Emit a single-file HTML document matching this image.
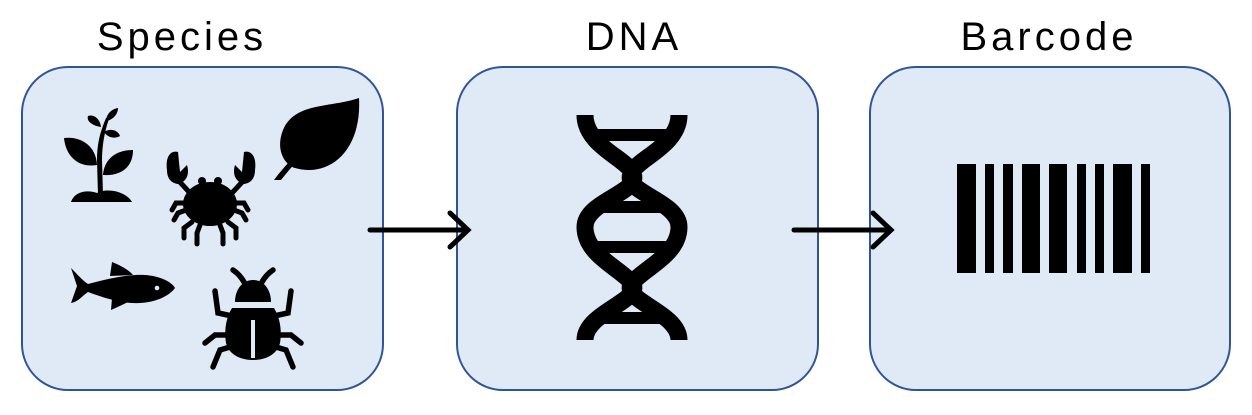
<!DOCTYPE html>
<html><head><meta charset="utf-8"><style>
html,body{margin:0;padding:0;background:#fff;}
body{width:1252px;height:410px;overflow:hidden;}
</style></head><body>
<svg width="1252" height="410" viewBox="0 0 1252 410" xmlns="http://www.w3.org/2000/svg">
<g font-family="Liberation Sans, sans-serif" font-size="40" fill="#000" text-anchor="middle" letter-spacing="4">
<text x="182" y="50">Species</text>
<text x="634" y="50">DNA</text>
<text x="1049" y="50">Barcode</text>
</g>
<g fill="#dfeaf6" stroke="#2f5597" stroke-width="2">
<rect x="22" y="67" width="361" height="323" rx="46"/>
<rect x="457" y="67" width="361" height="323" rx="46"/>
<rect x="870" y="67" width="360" height="323" rx="46"/>
</g>
<g stroke="#000" stroke-width="5" fill="none" stroke-linecap="round">
<line x1="370" y1="230" x2="466" y2="230"/>
<polyline points="450,213 468,230 450,247"/>
<line x1="794" y1="230" x2="889" y2="230"/>
<polyline points="873,213 891,230 873,247"/>
</g>
<g fill="#000">
<rect x="957" y="164" width="19" height="109"/>
<rect x="985" y="164" width="9" height="109"/>
<rect x="1003" y="164" width="10" height="109"/>
<rect x="1022" y="164" width="18" height="109"/>
<rect x="1049" y="164" width="18" height="109"/>
<rect x="1077" y="164" width="9" height="109"/>
<rect x="1095" y="164" width="9" height="109"/>
<rect x="1113" y="164" width="19" height="109"/>
<rect x="1141" y="164" width="9" height="109"/>
</g>
<g stroke="#000" stroke-width="17" fill="none">
<path d="M585 115 C585 145 625 158 632 172 C645 192 585 200 585 227 C585 255 620 268 632 283 C645 300 585 312 585 340"/>
<path d="M679 115 C679 145 639 158 632 172 C619 192 679 200 679 227 C679 255 644 268 632 283 C619 300 679 312 679 340"/>
</g>
<g fill="#000">
<rect x="592" y="129" width="80" height="12"/>
<rect x="592" y="201" width="80" height="12"/>
<rect x="592" y="241" width="80" height="12"/>
<rect x="592" y="312" width="80" height="12"/>
</g>
<g fill="#000">
<path d="M71 202 C75 190 90 190 97 193 C105 188 125 190 132 202 Z"/>
<path d="M98 195 L97 160 C97 140 102 128 106 118 L109 119 C105 130 102 145 102 160 L103 195 Z"/>
<path d="M64 138 C80 136 96 145 97 165 C80 168 66 158 64 138 Z"/>
<path d="M133 150 C133 168 120 176 103 175 C104 160 115 150 133 150 Z"/>
<path d="M104 132 C110 128 118 130 120 136 C115 139 108 138 104 132 Z"/>
<path d="M101 127 C94 126 86 122 88 116 C94 114 100 119 101 127 Z"/>
<path d="M118 108 C118 114 113 120 106 121 C106 115 111 109 118 108 Z"/>
</g>
<g fill="#000">
<ellipse cx="210" cy="204" rx="27" ry="22"/>
<circle cx="202" cy="181" r="4"/><circle cx="218" cy="181" r="4"/>
<path d="M167 170 C165 155 172 150 178 152 L180 172 L187 165 C190 175 186 182 178 184 C170 183 167 177 167 170 Z"/>
<path d="M255 170 C257 155 250 150 244 152 L242 172 L235 165 C232 175 236 182 244 184 C252 183 255 177 255 170 Z"/>
</g>
<g stroke="#000" stroke-width="5" fill="none" stroke-linecap="round">
<line x1="178" y1="180" x2="190" y2="193"/><line x1="244" y1="180" x2="232" y2="193"/>
<polyline points="186,203 176,203 172,210"/><polyline points="186,210 178,213 174,220"/>
<polyline points="234,203 244,203 248,210"/><polyline points="234,210 242,213 246,220"/>
<polyline points="192,222 184,228 184,238"/><polyline points="200,225 197,233 197,244"/>
<polyline points="228,222 236,228 236,238"/><polyline points="220,225 223,233 223,244"/>
</g>
<g fill="#000">
<path d="M359 98 C330 108 295 102 283 130 C275 150 285 165 295 168 C330 178 362 150 359 98 Z"/>
<path d="M274 180 C285 165 300 150 318 135 L321 139 C305 152 292 166 281 180 Z"/>
</g>
<g fill="#000">
<path d="M71 268 C78 275 82 280 88 284 C110 278 130 274 145 275 C160 276 172 282 175 288 C170 295 158 302 140 303 C125 304 110 300 88 292 C82 296 78 302 71 303 L77 286 Z"/>
<path d="M110 276 L112 262 C122 266 130 271 133 275 Z"/>
<path d="M112 298 L111 310 C120 306 126 303 130 301 Z"/>
<circle cx="157" cy="288" r="2.3" fill="#dfeaf6"/>
</g>
<g fill="#000">
<path d="M235 302 C235 290 242 280 253 280 C264 280 271 290 271 302 Z"/>
<path d="M232 308 L274 308 C280 318 282 330 280 343 C277 355 265 360 253 360 C241 360 229 355 226 343 C224 330 226 318 232 308 Z"/>
</g>
<line x1="253" y1="320" x2="253" y2="358" stroke="#dfeaf6" stroke-width="4"/>
<g stroke="#000" stroke-width="5.5" fill="none" stroke-linecap="round">
<path d="M244 282 C240 275 236 272 233 270"/><path d="M262 282 C266 275 270 272 273 270"/>
<polyline points="232,316 218,313 215,291"/><polyline points="274,316 288,313 291,291"/>
<polyline points="228,335 215,335 205,343"/><polyline points="278,335 291,335 301,343"/>
<polyline points="230,347 220,350 213,367"/><polyline points="276,347 286,350 293,367"/>
</g>
</svg>
</body></html>
